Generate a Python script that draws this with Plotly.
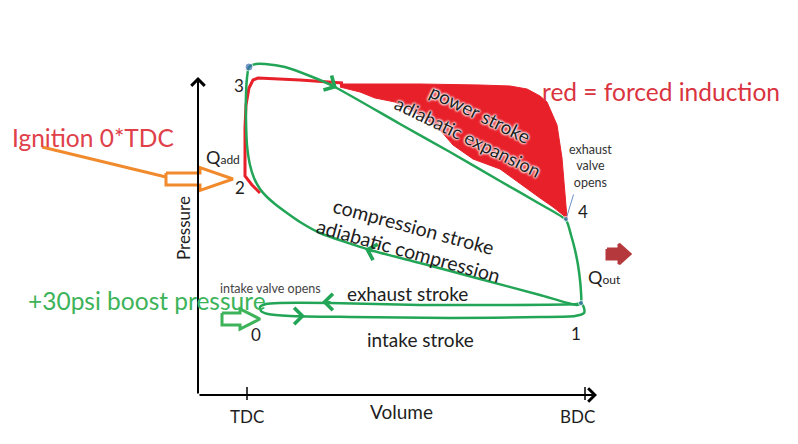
import plotly.graph_objects as go

# ---------------- data (volume / pressure in arbitrary diagram units) ----------------
# Base (naturally aspirated) Otto cycle loop, green
cycle_volume = [383, 379, 342, 282, 222, 172, 122, 102, 89, 77, 69, 62, 56, 52, 49, 48, 48, 49, 51,
                58, 67, 87, 112, 135, 202, 252, 302, 342, 368,
                373, 377, 380, 382, 383, 383]
cycle_pressure = [92, 90, 100, 116, 132, 145, 162, 173, 182, 191, 198, 206, 217, 230, 250, 275, 300, 317, 328,
                  331, 331, 328, 319, 309, 271, 243, 214, 191, 175,
                  160, 145, 130, 115, 103, 92]

# Exhaust / intake pumping loop, green
pump_volume = [383, 379, 302, 222, 132, 82, 68, 62, 63, 70, 92, 152, 252, 342, 377, 386, 386, 383]
pump_pressure = [92, 91, 90, 90, 92, 92, 91, 88, 84, 81, 79, 78, 77, 78, 79, 82, 87, 92]

# Forced induction outline, red
boost_line_volume = [62, 54, 47, 47, 47, 48, 51, 55, 60, 102, 145]
boost_line_pressure = [202, 210, 219, 245, 267, 290, 307, 315, 317, 315, 312]

# Forced induction extra work area, red (upper edge then lower edge)
boost_area_volume = [142, 222, 282, 312, 329, 342, 349, 359, 364, 367, 369,
                     365, 355, 342, 325, 302, 275, 255, 242, 222, 197, 177, 162, 142]
boost_area_pressure = [311, 311, 310, 309, 306, 299, 293, 270, 237, 203, 177,
                       180, 188, 197, 209, 226, 236, 250, 265, 280, 293, 297, 303, 308]

# State points 3, 4, 1
state_volume = [51, 368, 383]
state_pressure = [328, 176, 92]
state_size = [8, 5, 5]

tick_volume = [49, 387]
tick_labels = ["TDC", "BDC"]

GREEN = "#22A556"
RED = "#E8202A"
TEXT = "#1E1E1E"
FONT = "Lato"
HALO = "0px 0px 2px white, 0px 0px 2px white, 0px 0px 3px white, 0px 0px 3px white"

fig = go.Figure()

# red area
fig.add_trace(go.Scatter(x=boost_area_volume, y=boost_area_pressure, mode="lines", fill="toself",
                         fillcolor=RED, line=dict(color=RED, width=1), hoverinfo="skip"))
fig.add_trace(go.Scatter(x=boost_line_volume, y=boost_line_pressure, mode="lines",
                         line=dict(color=RED, width=3), hoverinfo="skip"))
# green loops
fig.add_trace(go.Scatter(x=cycle_volume, y=cycle_pressure, mode="lines",
                         line=dict(color=GREEN, width=2.5, shape="spline", smoothing=0.6), hoverinfo="skip"))
fig.add_trace(go.Scatter(x=pump_volume, y=pump_pressure, mode="lines",
                         line=dict(color=GREEN, width=2.5, shape="spline", smoothing=0.6), hoverinfo="skip"))
# state dots
fig.add_trace(go.Scatter(x=state_volume, y=state_pressure, mode="markers",
                         marker=dict(color="#3A6DB0", size=state_size), hoverinfo="skip"))


def block_arrow(x0, x1, x2, yc, hs, hh, color, fill):
    xs = [x0, x1, x1, x2, x1, x1, x0, x0]
    ys = [yc + hs, yc + hs, yc + hh, yc, yc - hh, yc - hs, yc - hs, yc + hs]
    fig.add_trace(go.Scatter(x=xs, y=ys, mode="lines", fill="toself", fillcolor=fill,
                             line=dict(color=color, width=3), hoverinfo="skip"))


# ignition pointer (orange)
fig.add_trace(go.Scatter(x=[-156, -32], y=[248, 218], mode="lines",
                         line=dict(color="#F08A2C", width=3), hoverinfo="skip"))
block_arrow(-32, 2, 35, 216, 6, 11.5, "#F08A2C", "white")
# boost pointer (green)
block_arrow(24, 42, 62, 76, 6, 10, "#3DB35A", "white")
# heat out arrow (dark red)
block_arrow(409, 421, 432, 141, 5, 10, "#B4383C", "#B4383C")

# ticks
for tv in tick_volume:
    fig.add_trace(go.Scatter(x=[tv, tv], y=[-5, 8], mode="lines",
                             line=dict(color="black", width=1.5), hoverinfo="skip"))

anns = []
# axes with arrow heads
anns.append(dict(x=399, y=0, ax=0, ay=0, axref="x", ayref="y", xref="x", yref="y", text="",
                 showarrow=True, arrowhead=4, arrowsize=1.3, arrowwidth=2, arrowcolor="black"))
anns.append(dict(x=0, y=318, ax=0, ay=0, axref="x", ayref="y", xref="x", yref="y", text="",
                 showarrow=True, arrowhead=4, arrowsize=1.3, arrowwidth=2, arrowcolor="black"))
# direction chevrons on cycle
for (tx, ty, ax, ay) in [(139, 307, -9, -5), (167, 146, 10, 3), (124, 93, 10, 0), (107, 79, -10, 0)]:
    anns.append(dict(x=tx, y=ty, ax=ax, ay=ay, xref="x", yref="y", text="", showarrow=True,
                     arrowhead=4, arrowsize=1.6, arrowwidth=2, arrowcolor=GREEN))
# exhaust valve pointer
anns.append(dict(x=369, y=179, ax=376, ay=202, axref="x", ayref="y", xref="x", yref="y", text="",
                 showarrow=True, arrowhead=0, arrowwidth=1, arrowcolor="#6A8FC8"))


def label(x, y, text, size=15, color=TEXT, angle=0, halo=False):
    font = dict(family=FONT, size=size, color=color)
    if halo:
        font["shadow"] = HALO
    anns.append(dict(x=x, y=y, xref="x", yref="y", text=text, showarrow=False, textangle=angle,
                     font=font, xanchor="center", yanchor="middle"))


label(41, 310, "3", 17)
label(42, 208, "2", 17)
label(385, 184, "4", 17)
label(378, 62, "1", 17)
label(58, 61, "0", 17)
label(25, 238, "Q<span style='font-size:12px'>add</span>", 18)
label(406, 118, "Q<span style='font-size:12px'>out</span>", 18)
label(392, 229, "exhaust<br>valve<br>opens", 12.5, "#333333")
label(463, 304, "red = forced induction", 24.5, "#D9343F")
label(-105, 258, "Ignition 0*TDC", 24.5, "#E0404A")
label(-51, 95, "+30psi boost pressure", 24.5, "#3DB35A")
label(72, 107, "intake valve opens", 12.5, "#444444")
label(209, 102, "exhaust stroke", 19)
label(222, 56, "intake stroke", 19)
label(216, 169, "compression stroke", 19.5, angle=15)
label(210, 145, "adiabatic compression", 19.5, angle=15.5)
label(282, 282, "power stroke", 19, angle=26, halo=True)
label(270, 258, "adiabatic expansion", 18.5, angle=26, halo=True)
label(203, -16, "Volume", 19)
label(-15, 167, "Pressure", 17, angle=-90)
for tv, tl in zip(tick_volume, tick_labels):
    label(tv - (0 if tl == "TDC" else 8), -21, tl, 17)

# page body adds an 8px margin, so the figure is sized/ranged to land on the window
fig.update_layout(
    width=782, height=428, margin=dict(l=0, r=0, t=0, b=0),
    paper_bgcolor="white", plot_bgcolor="white", showlegend=False,
    xaxis=dict(range=[-190, 592], visible=False, fixedrange=True),
    yaxis=dict(range=[-41, 387], visible=False, fixedrange=True),
    annotations=anns,
)
fig.write_html("out.html")
